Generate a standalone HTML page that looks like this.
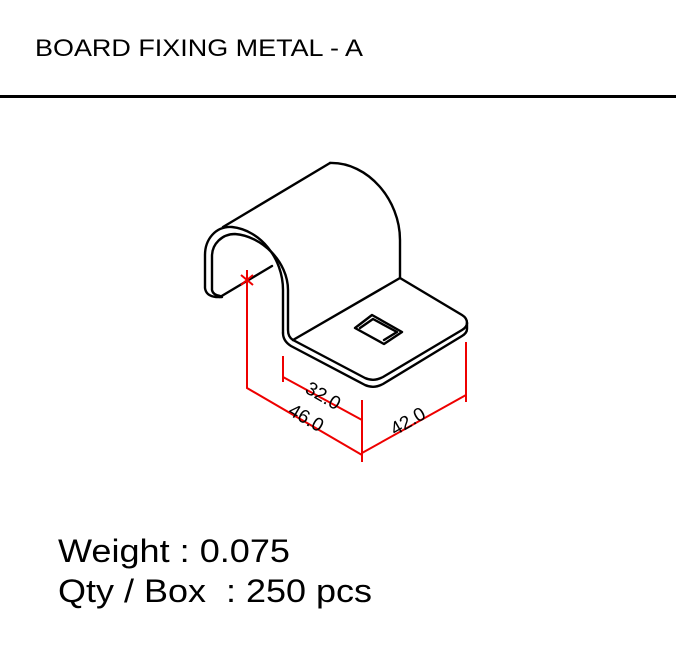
<!DOCTYPE html>
<html><head><style>body{margin:0;background:#fff}svg{display:block}</style></head><body>
<svg width="676" height="647" viewBox="0 0 676 647" xmlns="http://www.w3.org/2000/svg" font-family="Liberation Sans, Arial, sans-serif">
<rect width="676" height="647" fill="#fff"/>
<text x="35" y="56" font-size="24" textLength="328" lengthAdjust="spacingAndGlyphs">BOARD FIXING METAL - A</text>
<rect x="0" y="95" width="676" height="3" fill="#000"/>
<g fill="none" stroke="#000" stroke-width="2.4" stroke-linejoin="round" stroke-linecap="round">
<path d="M223,227 L330,163"/>
<path d="M330,163 C368,162 400,200 400,240 L400,278"/>
<path d="M400,278 L462,315 Q467,318 467,323"/>
<!-- top surface front edge -->
<path d="M467,323 Q467,327 462,330 L383,377 Q374,382 365,378 L293,340"/>
<!-- bottom thickness edge -->
<path d="M467,323 L467,329 Q467,333 462,336 L383,384 Q374,389 365,385 L291,346 Q283,341 283,333"/>
<path d="M283,333 L283,290 C283,258 260,230 232,227 C215,226 205,240 205,255 L205,288 Q206,296 216,297 L222,297"/>
<path d="M293,340 Q288,337 288,330 L288,290 C288,262 262,236 235,234 C222,234 212,244 212,256 L212,290 Q213,295 220,296"/>
<path d="M220,297 L272,266"/>
<path d="M293,340 L400,278"/>
<path d="M355,328 L372,315 L402,332 L384,344 Z"/>
<path d="M360,328 L373,319 L397,332 L384,340"/>
</g>
<g stroke="#e00" stroke-width="2" fill="none">
<path d="M247,270 L247,388 L362,455"/>
<path d="M241,275 L253,285 M253,275 L241,285"/>
<path d="M283,356 L283,382 M283,377 L362,420"/>
<path d="M362,400 L362,462 M362,453 L466,395"/>
<path d="M466,342 L466,402"/>
</g>
<g fill="#000" font-size="19">
<text transform="translate(304,392) rotate(30)">32.0</text>
<text transform="translate(287,414) rotate(30)">46.0</text>
<text transform="translate(395,436) rotate(-30)">42.0</text>
</g>
<text x="58" y="562" font-size="32" textLength="232" lengthAdjust="spacingAndGlyphs">Weight : 0.075</text>
<text x="58" y="602" font-size="32" textLength="314" lengthAdjust="spacingAndGlyphs" xml:space="preserve">Qty / Box  : 250 pcs</text>
</svg>
</body></html>
